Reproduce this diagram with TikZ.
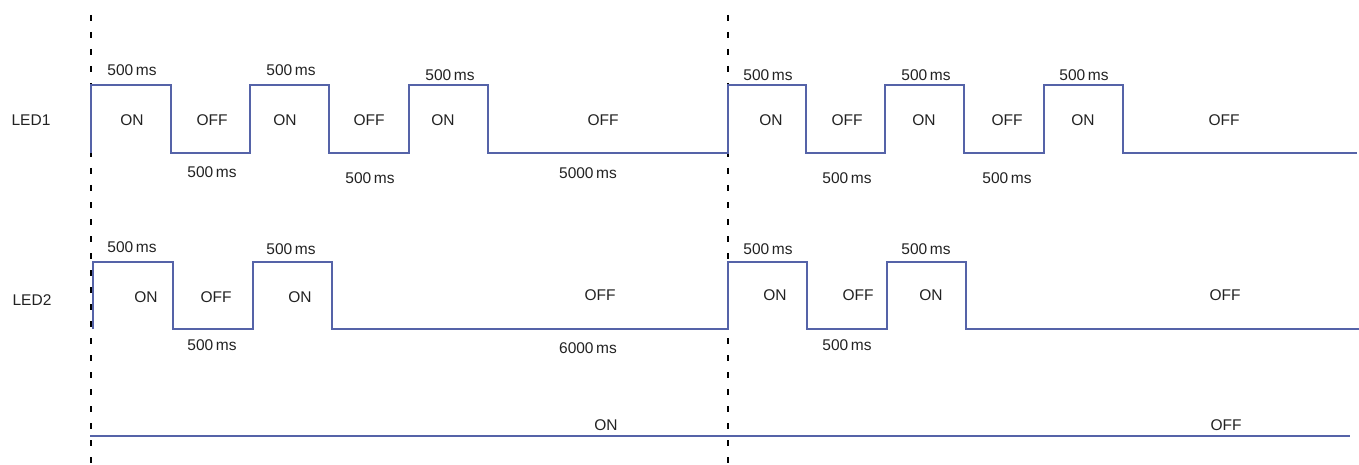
\documentclass[tikz,border=0pt]{standalone}
\usepackage{fontspec}
\setmainfont{Liberation Sans}
\definecolor{wave}{HTML}{5563A8}
\definecolor{txt}{HTML}{222222}
\begin{document}
\begin{tikzpicture}[x=1pt,y=-1pt,
  wavel/.style={draw=wave,line width=1.1pt},
  guide/.style={draw=black,line width=1.1pt,dash pattern=on 6pt off 11pt},
  lbl/.style={font=\fontsize{15.5}{17}\selectfont,text=txt,inner sep=0pt},
  ms/.style={font=\fontsize{15.5}{17}\selectfont,text=txt,inner sep=0pt}]
\useasboundingbox (0,0) rectangle (1359,465);
% guides
\coordinate (g1t) at (91,15); \coordinate (g1b) at (91,465);
\coordinate (g2t) at (728,15); \coordinate (g2b) at (728,465);
\draw[guide] (g1t) -- (g1b);
\draw[guide] (g2t) -- (g2b);
% LED1 waveform
\draw[wavel] (91,153) -- (91,85) -- (171,85) -- (171,153) -- (250,153) -- (250,85) -- (329,85) -- (329,153)
  -- (409,153) -- (409,85) -- (488,85) -- (488,153) -- (728,153) -- (728,85) -- (806,85) -- (806,153)
  -- (885,153) -- (885,85) -- (964,85) -- (964,153) -- (1044,153) -- (1044,85) -- (1123,85) -- (1123,153) -- (1357,153);
% LED2 waveform
\draw[wavel] (93,329) -- (93,262) -- (173,262) -- (173,329) -- (253,329) -- (253,262) -- (332,262) -- (332,329)
  -- (728,329) -- (728,262) -- (807,262) -- (807,329) -- (887,329) -- (887,262) -- (966,262) -- (966,329) -- (1359,329);
% third line
\draw[wavel] (90,436) -- (1350,436);
% labels
\node[lbl] (led1) at (31,120) {LED1};
\node[lbl] (led2) at (32,300) {LED2};
% LED1 texts
\node[ms] (a1) at (132,70) {500\,ms};
\node[ms] (a2) at (291,70) {500\,ms};
\node[ms] (a3) at (450,75) {500\,ms};
\node[ms] (a4) at (768,75) {500\,ms};
\node[ms] (a5) at (926,75) {500\,ms};
\node[ms] (a6) at (1084,75) {500\,ms};
\node[lbl] (s1) at (132,120) {ON};
\node[lbl] (s2) at (212,120) {OFF};
\node[lbl] (s3) at (285,120) {ON};
\node[lbl] (s4) at (369,120) {OFF};
\node[lbl] (s5) at (443,120) {ON};
\node[lbl] (s6) at (603,120) {OFF};
\node[lbl] (s7) at (771,120) {ON};
\node[lbl] (s8) at (847,120) {OFF};
\node[lbl] (s9) at (924,120) {ON};
\node[lbl] (s10) at (1007,120) {OFF};
\node[lbl] (s11) at (1083,120) {ON};
\node[lbl] (s12) at (1224,120) {OFF};
\node[ms] (b1) at (212,172) {500\,ms};
\node[ms] (b2) at (370,178) {500\,ms};
\node[ms] (b3) at (588,173) {5000\,ms};
\node[ms] (b4) at (847,178) {500\,ms};
\node[ms] (b5) at (1007,178) {500\,ms};
% LED2 texts
\node[ms] (c1) at (132,247) {500\,ms};
\node[ms] (c2) at (291,249) {500\,ms};
\node[ms] (c3) at (768,249) {500\,ms};
\node[ms] (c4) at (926,249) {500\,ms};
\node[lbl] (t1) at (146,297) {ON};
\node[lbl] (t2) at (216,297) {OFF};
\node[lbl] (t3) at (300,297) {ON};
\node[lbl] (t4) at (600,295) {OFF};
\node[lbl] (t5) at (775,295) {ON};
\node[lbl] (t6) at (858,295) {OFF};
\node[lbl] (t7) at (931,295) {ON};
\node[lbl] (t8) at (1225,295) {OFF};
\node[ms] (d1) at (212,345) {500\,ms};
\node[ms] (d2) at (588,348) {6000\,ms};
\node[ms] (d3) at (847,345) {500\,ms};
% third row texts
\node[lbl] (u1) at (606,425) {ON};
\node[lbl] (u2) at (1226,425) {OFF};
\end{tikzpicture}
\end{document}
